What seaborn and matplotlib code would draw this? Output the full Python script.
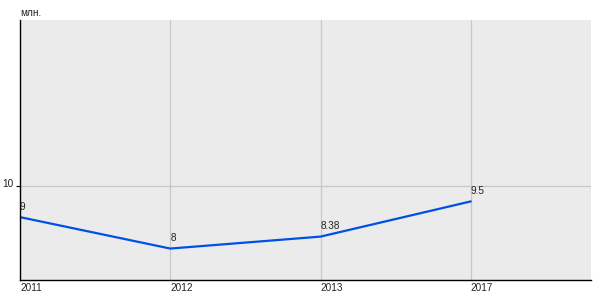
import matplotlib
matplotlib.use("Agg")
import matplotlib.pyplot as plt
import matplotlib.transforms as mtransforms
import seaborn as sns
import pandas as pd

years = ["2011", "2012", "2013", "2017"]
values = [9, 8, 8.38, 9.5]
value_labels = ["9", "8", "8.38", "9.5"]
y_ticks = [10]
unit_label = "млн."

sns.set_theme(style="white")
plt.rcParams['font.family'] = ['Liberation Sans', 'DejaVu Sans']

df = pd.DataFrame({"year": years, "value": values})

fig = plt.figure(figsize=(6, 3), dpi=100)
ax = fig.add_axes([20/600, 20/300, 571/600, 260/300])
ax.set_facecolor("#ebebeb")

sns.lineplot(data=df, x="year", y="value", ax=ax, color="#0050e6", linewidth=1.6, sort=False)

ax.set_xlim(0, 3.8)
ax.set_ylim(7, 15.27)
ax.set_yticks(y_ticks)
ax.set_yticklabels([str(t) for t in y_ticks])
ax.set_xticks(range(len(years)))
ax.set_xticklabels(years)
ax.grid(True, color="#c8c8c8", linewidth=0.9)
ax.set_axisbelow(True)
ax.set_xlabel("")
ax.set_ylabel("")

for s in ["top", "right"]:
    ax.spines[s].set_visible(False)
for s in ["left", "bottom"]:
    ax.spines[s].set_color("black")
    ax.spines[s].set_linewidth(1.0)

ax.tick_params(axis="y", length=3, width=0.8, color="black", pad=1.5, labelsize=7.2, labelcolor="#222222", left=True)
ax.tick_params(axis="x", length=0, pad=2.5, labelsize=7.2, labelcolor="#222222")
for lbl in ax.get_xticklabels():
    lbl.set_horizontalalignment("left")
shift = mtransforms.ScaledTranslation(0, 3/100, fig.dpi_scale_trans)
for lbl in ax.get_yticklabels():
    lbl.set_transform(lbl.get_transform() + shift)

for i, (v, t) in enumerate(zip(values, value_labels)):
    ax.annotate(t, (i, v), xytext=(0, 4), textcoords="offset points",
                ha="left", va="bottom", fontsize=7.2, color="#222222")

fig.text(20/600, 1 - 13/300, unit_label, ha="left", va="center", fontsize=7.2, color="#222222")

fig.savefig("out.png", dpi=100, facecolor="white")
